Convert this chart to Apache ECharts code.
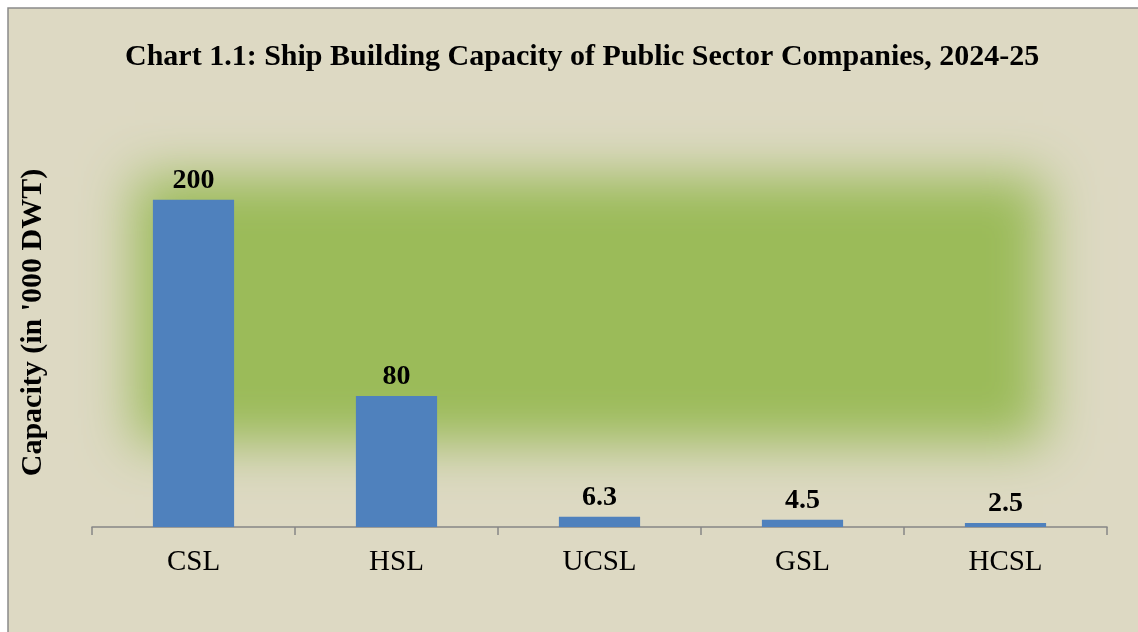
<!DOCTYPE html>
<html>
<head>
<meta charset="utf-8">
<script src="https://cdn.jsdelivr.net/npm/echarts@6/dist/echarts.min.js"></script>
<style>
  html, body { margin: 0; padding: 0; background: #fff; }
  #chart { width: 1138px; height: 632px; }
</style>
</head>
<body>
<div id="chart"></div>
<script>
// Ship building capacity chart
var companies = ['CSL', 'HSL', 'UCSL', 'GSL', 'HCSL'];
var capacity = [200, 80, 6.3, 4.5, 2.5];
var labelText = ['200', '80', '6.3', '4.5', '2.5'];

(function() {
    var serif = "'Liberation Serif', 'Times New Roman', serif";
    var bg = '#ddd9c3';
    var green = '#9bbb59';
    var blue = '#4f81bd';
    var axisGray = '#868686';

    var chart = echarts.init(document.getElementById('chart'));

    var option = {
        backgroundColor: '#ffffff',
        animation: false,
        title: {
            text: 'Chart 1.1: Ship Building Capacity of Public Sector Companies, 2024-25',
            left: 120,
            top: 37,
            textStyle: {
                fontFamily: serif,
                fontWeight: 'bold',
                fontSize: 30,
                color: '#000'
            }
        },
        graphic: [
            {
                type: 'rect',
                z: -10,
                silent: true,
                shape: { x: 8, y: 8, width: 1200, height: 700 },
                style: { fill: bg, stroke: '#8a8a8a', lineWidth: 1.5 }
            },
            {
                // soft green glow behind the plot, drawn as an offset shadow only
                type: 'rect',
                z: -9,
                silent: true,
                shape: { x: 135 - 3000, y: 177, width: 908, height: 266 },
                style: {
                    fill: green,
                    shadowColor: green,
                    shadowBlur: 50,
                    shadowOffsetX: 3000
                }
            }
        ],
        grid: {
            left: 92,
            right: 31,
            top: 118,
            bottom: 105
        },
        xAxis: {
            type: 'category',
            data: companies,
            axisLine: { lineStyle: { color: axisGray, width: 1.5 } },
            axisTick: { show: true, length: 8, lineStyle: { color: axisGray, width: 1.5 } },
            axisLabel: {
                fontFamily: serif,
                fontSize: 29,
                color: '#000',
                margin: 21
            }
        },
        yAxis: {
            type: 'value',
            min: 0,
            max: 250,
            name: "Capacity (in '000 DWT)",
            nameLocation: 'middle',
            nameRotate: 90,
            nameGap: 44,
            nameTextStyle: {
                fontFamily: serif,
                fontWeight: 'bold',
                fontSize: 30,
                color: '#000'
            },
            axisLine: { show: false },
            axisTick: { show: false },
            axisLabel: { show: false },
            splitLine: { show: false }
        },
        series: [{
            type: 'bar',
            data: capacity,
            barWidth: '40%',
            itemStyle: { color: blue },
            label: {
                show: true,
                position: 'top',
                distance: 5,
                fontFamily: serif,
                fontWeight: 'bold',
                fontSize: 28,
                color: '#000',
                formatter: function(p) { return labelText[p.dataIndex]; }
            }
        }]
    };

    chart.setOption(option);
    window.addEventListener('resize', function() {
        chart.resize();
    });
})();
</script>
</body>
</html>
